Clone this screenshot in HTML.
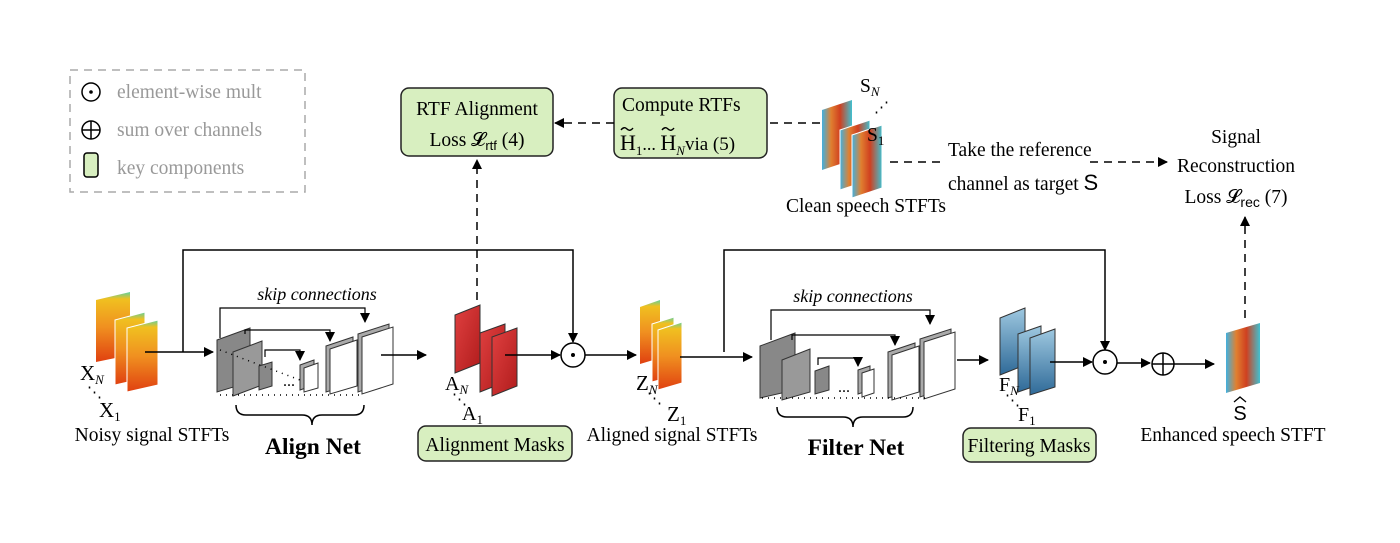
<!DOCTYPE html>
<html><head><meta charset="utf-8"><style>
html,body{margin:0;padding:0;background:#fff;}
svg{display:block;font-family:"Liberation Serif",serif;}
</style></head><body>
<svg width="1400" height="543" viewBox="0 0 1400 543" xmlns="http://www.w3.org/2000/svg">
<defs>
<marker id="ah" markerWidth="10" markerHeight="10" refX="9" refY="5" orient="auto" markerUnits="userSpaceOnUse"><path d="M0,0 L10,5 L0,10 z" fill="#000"/></marker>
<linearGradient id="spec" x1="0" y1="0" x2="0" y2="1"><stop offset="0" stop-color="#5fd0a0"/><stop offset="0.1" stop-color="#f0c020"/><stop offset="0.5" stop-color="#f09020"/><stop offset="1" stop-color="#e04010"/></linearGradient>
<linearGradient id="spec2" x1="0" y1="0" x2="1" y2="0"><stop offset="0" stop-color="#40b0e0"/><stop offset="0.3" stop-color="#e08030"/><stop offset="0.6" stop-color="#d04020"/><stop offset="1" stop-color="#40c0d0"/></linearGradient>
<linearGradient id="red" x1="0" y1="0" x2="1" y2="1"><stop offset="0" stop-color="#e04040"/><stop offset="1" stop-color="#b01c1c"/></linearGradient>
<linearGradient id="blue" x1="0" y1="0" x2="0" y2="1"><stop offset="0" stop-color="#9ec8e0"/><stop offset="1" stop-color="#2f6a98"/></linearGradient>
</defs>
<g font-size="19.5" fill="#999">
<rect x="70" y="70" width="235" height="122" fill="none" stroke="#aaa" stroke-width="1.5" stroke-dasharray="8,6"/>
<circle cx="91" cy="92" r="9" fill="none" stroke="#000" stroke-width="1.5"/><circle cx="91" cy="92" r="1.8" fill="#000"/>
<text x="117" y="98">element-wise mult</text>
<circle cx="91" cy="130" r="9" fill="none" stroke="#000" stroke-width="1.5"/><path d="M82,130h18M91,121v18" stroke="#000" stroke-width="1.5"/>
<text x="117" y="136">sum over channels</text>
<rect x="84" y="153" width="14" height="24" rx="3" fill="#d8efc0" stroke="#000" stroke-width="1.5"/>
<text x="117" y="174">key components</text>
</g>
<g font-size="19.5" fill="#000">
<rect x="401" y="88" width="152" height="68" rx="8" fill="#d8efc0" stroke="#222" stroke-width="1.5"/>
<text x="477" y="115" text-anchor="middle">RTF Alignment</text>
<text x="477" y="146" text-anchor="middle">Loss 𝓛<tspan font-family="Liberation Sans" font-size="13" dy="4">rtf</tspan><tspan dy="-4"> (4)</tspan></text>
<rect x="614" y="88" width="153" height="70" rx="8" fill="#d8efc0" stroke="#222" stroke-width="1.5"/>
<text x="622" y="111">Compute RTFs</text>
<text x="620" y="150" font-size="22">H<tspan font-size="13" dy="5">1</tspan><tspan dy="-5" font-size="18">... </tspan>H<tspan font-size="13" dy="5" font-style="italic">N</tspan><tspan dy="-5" font-size="19">via (5)</tspan></text>
<path d="M621,130q3,-4 6,-1t6,-1M662,130q3,-4 6,-1t6,-1" fill="none" stroke="#000" stroke-width="1.4"/>
<path d="M614,123H555" stroke="#000" stroke-width="1.5" stroke-dasharray="8,6" marker-end="url(#ah)"/>
<path d="M820,123H770" stroke="#000" stroke-width="1.5" stroke-dasharray="8,6"/>
<path d="M477,300V160" stroke="#000" stroke-width="1.5" stroke-dasharray="8,6" marker-end="url(#ah)"/>
<polygon points="822,110 852,100 852,160 822,170" fill="url(#spec2)"/>
<polygon points="840,130 870,120 870,180 840,190" fill="url(#spec2)" stroke="#fff"/>
<polygon points="852,135 882,125 882,188 852,198" fill="url(#spec2)" stroke="#fff"/>
<text x="860" y="92">S<tspan font-size="13" dy="4" font-style="italic">N</tspan></text>
<text x="867" y="141">S<tspan font-size="13" dy="4">1</tspan></text>
<text x="874" y="112" font-size="15">⋰</text>
<text x="866" y="212" text-anchor="middle">Clean speech STFTs</text>
<path d="M890,162H940" stroke="#000" stroke-width="1.5" stroke-dasharray="8,6"/>
<text x="948" y="156">Take the reference</text>
<text x="948" y="190">channel as target <tspan font-family="Liberation Sans" font-size="22">S</tspan></text>
<path d="M1090,162H1167" stroke="#000" stroke-width="1.5" stroke-dasharray="8,6" marker-end="url(#ah)"/>
<text x="1236" y="143" text-anchor="middle">Signal</text>
<text x="1236" y="172" text-anchor="middle">Reconstruction</text>
<text x="1236" y="203" text-anchor="middle">Loss 𝓛<tspan font-family="Liberation Sans" font-size="14" dy="4">rec</tspan><tspan dy="-4"> (7)</tspan></text>
<path d="M1245,318V217" stroke="#000" stroke-width="1.5" stroke-dasharray="8,6" marker-end="url(#ah)"/>
<path d="M183,352V250H573V342" fill="none" stroke="#000" stroke-width="1.5" marker-end="url(#ah)"/>
<path d="M724,352V250H1105V350" fill="none" stroke="#000" stroke-width="1.5" marker-end="url(#ah)"/>
<polygon points="96,300 130,292 130,355 96,362" fill="url(#spec)"/>
<polygon points="115,320 145,312 145,378 115,385" fill="url(#spec)" stroke="#fff"/>
<polygon points="127,328 158,320 158,385 127,392" fill="url(#spec)" stroke="#fff"/>
<text x="80" y="380" font-size="21">X<tspan font-size="13" dy="4" font-style="italic">N</tspan></text>
<text x="87" y="397" font-size="15">⋱</text>
<text x="99" y="417" font-size="21">X<tspan font-size="13" dy="4">1</tspan></text>
<text x="152" y="441" text-anchor="middle">Noisy signal STFTs</text>
<path d="M145,352H213" stroke="#000" stroke-width="1.5" marker-end="url(#ah)"/>
<g stroke="#333" stroke-width="1">
<polygon points="217,340 250,328 250,382 217,392" fill="#888"/>
<polygon points="233,352 262,341 262,385 233,396" fill="#999"/>
<polygon points="259,366 272,362 272,386 259,390" fill="#888"/>
<polygon points="300,365 314,360 314,385 300,390" fill="#aaa"/>
<polygon points="304,368 318,363 318,388 304,392" fill="#fff"/>
<polygon points="326,346 353,337 353,384 326,392" fill="#aaa"/>
<polygon points="330,349 357,340 357,386 330,394" fill="#fff"/>
<polygon points="358,334 389,324 389,382 358,392" fill="#aaa"/>
<polygon points="362,337 393,327 393,384 362,394" fill="#fff"/>
</g>
<path d="M220,395H363" stroke="#000" stroke-dasharray="1,5" stroke-width="1.5"/>
<path d="M220,350L300,380" stroke="#000" stroke-dasharray="1,5" stroke-width="1.5"/>
<text x="283" y="386" font-size="16">...</text>
<path d="M220,338V308H365V322" fill="none" stroke="#000" stroke-width="1.2" marker-end="url(#ah)"/>
<path d="M245,334V330H330V341" fill="none" stroke="#000" stroke-width="1.2" marker-end="url(#ah)"/>
<path d="M265,357V350H300V360" fill="none" stroke="#000" stroke-width="1.2" marker-end="url(#ah)"/>
<text x="317" y="300" text-anchor="middle" font-style="italic" font-size="18">skip connections</text>
<path d="M236,405q0,10 10,10h56q10,0 10,10q0,-10 10,-10h32q10,0 10,-10" fill="none" stroke="#000" stroke-width="1.5"/>
<text x="313" y="454" text-anchor="middle" font-weight="bold" font-size="23.5">Align Net</text>
<path d="M381,355H426" stroke="#000" stroke-width="1.5" marker-end="url(#ah)"/>
<g stroke="#333" stroke-width="1">
<polygon points="455,315 480,305 480,363 455,373" fill="url(#red)"/>
<polygon points="480,333 505,324 505,382 480,392" fill="url(#red)"/>
<polygon points="492,337 517,328 517,386 492,396" fill="url(#red)"/>
</g>
<text x="445" y="390" font-size="20">A<tspan font-size="13" dy="4" font-style="italic">N</tspan></text>
<text x="452" y="404" font-size="15">⋱</text>
<text x="462" y="420" font-size="20">A<tspan font-size="13" dy="4">1</tspan></text>
<path d="M505,355H560" stroke="#000" stroke-width="1.5" marker-end="url(#ah)"/>
<circle cx="573" cy="355" r="12" fill="#fff" stroke="#000" stroke-width="1.5"/><circle cx="573" cy="355" r="2" fill="#000"/>
<path d="M585,355H636" stroke="#000" stroke-width="1.5" marker-end="url(#ah)"/>
<rect x="418" y="426" width="154" height="35" rx="8" fill="#d8efc0" stroke="#222" stroke-width="1.5"/>
<text x="495" y="451" text-anchor="middle">Alignment Masks</text>
<polygon points="640,307 660,300 660,358 640,364" fill="url(#spec)"/>
<polygon points="652,324 674,317 674,376 652,382" fill="url(#spec)" stroke="#fff"/>
<polygon points="658,330 682,322 682,383 658,390" fill="url(#spec)" stroke="#fff"/>
<text x="636" y="390" font-size="21">Z<tspan font-size="13" dy="4" font-style="italic">N</tspan></text>
<text x="647" y="403" font-size="15">⋱</text>
<text x="667" y="421" font-size="21">Z<tspan font-size="13" dy="4">1</tspan></text>
<text x="672" y="441" text-anchor="middle">Aligned signal STFTs</text>
<path d="M680,357H752" stroke="#000" stroke-width="1.5" marker-end="url(#ah)"/>
<g stroke="#333" stroke-width="1">
<polygon points="760,346 795,333 795,390 760,398" fill="#888"/>
<polygon points="782,360 810,349 810,392 782,400" fill="#999"/>
<polygon points="815,371 829,366 829,390 815,394" fill="#888"/>
<polygon points="858,370 870,366 870,390 858,394" fill="#aaa"/>
<polygon points="862,373 874,369 874,393 862,397" fill="#fff"/>
<polygon points="888,352 915,343 915,390 888,398" fill="#aaa"/>
<polygon points="892,355 919,346 919,392 892,400" fill="#fff"/>
<polygon points="920,339 951,329 951,387 920,397" fill="#aaa"/>
<polygon points="924,342 955,332 955,389 924,399" fill="#fff"/>
</g>
<path d="M762,398H925" stroke="#000" stroke-dasharray="1,5" stroke-width="1.5"/>
<text x="838" y="392" font-size="16">...</text>
<path d="M771,340V310H930V324" fill="none" stroke="#000" stroke-width="1.2" marker-end="url(#ah)"/>
<path d="M792,340V335H895V345" fill="none" stroke="#000" stroke-width="1.2" marker-end="url(#ah)"/>
<path d="M818,365V358H858V366" fill="none" stroke="#000" stroke-width="1.2" marker-end="url(#ah)"/>
<text x="853" y="302" text-anchor="middle" font-style="italic" font-size="18">skip connections</text>
<path d="M777,407q0,10 10,10h56q10,0 10,10q0,-10 10,-10h40q10,0 10,-10" fill="none" stroke="#000" stroke-width="1.5"/>
<text x="856" y="455" text-anchor="middle" font-weight="bold" font-size="23.5">Filter Net</text>
<path d="M957,360H988" stroke="#000" stroke-width="1.5" marker-end="url(#ah)"/>
<g stroke="#333" stroke-width="1">
<polygon points="1000,318 1025,308 1025,365 1000,375" fill="url(#blue)"/>
<polygon points="1018,334 1041,326 1041,384 1018,392" fill="url(#blue)"/>
<polygon points="1030,338 1055,329 1055,387 1030,395" fill="url(#blue)"/>
</g>
<text x="999" y="391" font-size="20">F<tspan font-size="13" dy="4" font-style="italic">N</tspan></text>
<text x="1005" y="405" font-size="15">⋱</text>
<text x="1018" y="421" font-size="20">F<tspan font-size="13" dy="4">1</tspan></text>
<rect x="963" y="428" width="133" height="34" rx="8" fill="#d8efc0" stroke="#222" stroke-width="1.5"/>
<text x="1029" y="452" text-anchor="middle">Filtering Masks</text>
<path d="M1050,362H1092" stroke="#000" stroke-width="1.5" marker-end="url(#ah)"/>
<circle cx="1105" cy="362" r="12" fill="#fff" stroke="#000" stroke-width="1.5"/><circle cx="1105" cy="362" r="2" fill="#000"/>
<path d="M1117,363H1150" stroke="#000" stroke-width="1.5" marker-end="url(#ah)"/>
<circle cx="1163" cy="364" r="11" fill="#fff" stroke="#000" stroke-width="1.5"/><path d="M1152,364h22M1163,353v22" stroke="#000" stroke-width="1.5"/>
<path d="M1174,364H1214" stroke="#000" stroke-width="1.5" marker-end="url(#ah)"/>
<polygon points="1226,333 1260,323 1260,383 1226,393" fill="url(#spec2)"/>
<text x="1240" y="420" text-anchor="middle" font-family="Liberation Sans" font-size="20">S</text>
<path d="M1234,402l6,-5l6,5" fill="none" stroke="#000" stroke-width="1.3"/>
<text x="1233" y="441" text-anchor="middle">Enhanced speech STFT</text>
</g>
</svg>
</body></html>
